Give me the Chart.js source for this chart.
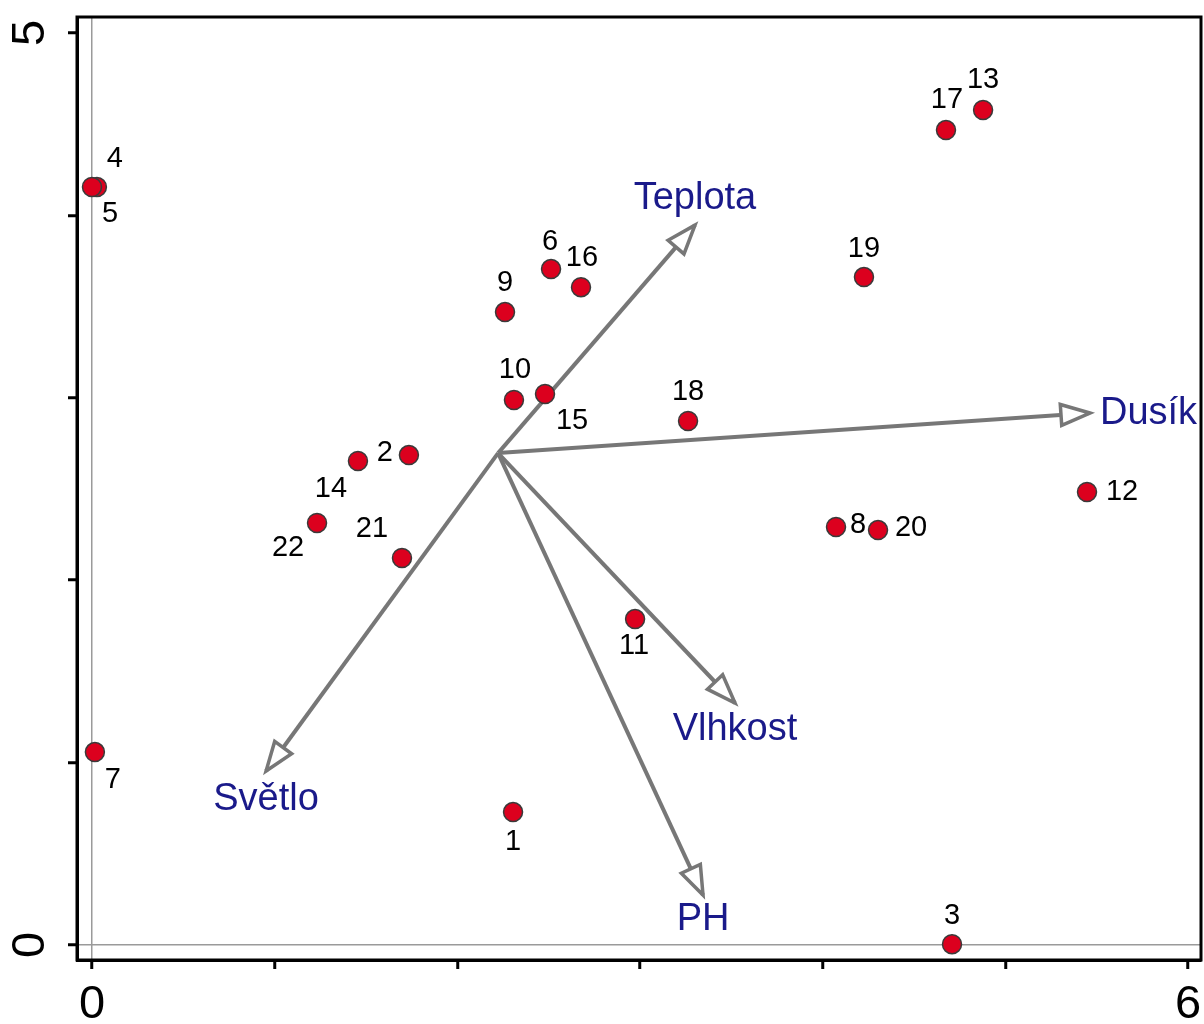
<!DOCTYPE html>
<html>
<head>
<meta charset="utf-8">
<script src="https://cdn.jsdelivr.net/npm/chart.js@4.4.1/dist/chart.umd.min.js"></script>
<style>
  html, body { margin: 0; padding: 0; background: #fff; }
  canvas { display: block; }
</style>
</head>
<body>
<canvas id="ordination" width="1204" height="1024"></canvas>
<script>
// sites (red points)
const siteLabels = ['1', '2', '3', '4', '5', '6', '7', '8', '9', '10', '11',
                    '12', '13', '14', '15', '16', '17', '18', '19', '20', '21', '22'];
const siteX = [2.305, 1.735, 4.708, 0.027, 0.000, 2.513, 0.016, 4.073, 2.261, 2.310, 2.973,
               5.447, 4.878, 1.456, 2.480, 2.677, 4.675, 3.263, 4.226, 4.303, 1.697, 1.232];
const siteY = [0.729, 2.686, 0.005, 4.156, 4.156, 3.706, 1.058, 2.292, 3.470, 2.988, 1.787,
               2.484, 4.578, 2.654, 3.021, 3.607, 4.468, 2.873, 3.662, 2.275, 2.122, 2.314];

// environmental vectors
const vectorNames = ['Teplota', 'Dusík', 'Vlhkost', 'PH', 'Světlo'];
const vectorX = [3.301, 5.463, 3.520, 3.345, 0.953];
const vectorY = [3.947, 2.917, 1.327, 0.274, 0.954];
const vectorOrigin = [2.223, 2.697];

// axis labels (only ends are labelled)
const xTickLabels = ['0', '', '', '', '', '', '6'];
const yTickLabels = ['0', '', '', '', '', '5'];

// label placement (pixels, relative to the mark)
const siteLabelOffsets = [[0, 30], [-24, -2], [0, -28], [18, -28], [18, 27], [-1, -27], [18, 28],
  [22, -2], [0, -29], [1, -30], [-1, 27], [35, 0], [0, -30], [-27, 28], [27, 27], [1, -29],
  [1, -30], [0, -29], [0, -28], [33, -2], [-30, -29], [-29, 25]];
const vectorLabelOffsets = [[0, -27, 'center'], [10, 1, 'left'], [0, 27, 'center'], [0, 24, 'center'], [0, 28, 'center']];

const FONT = 'Arial, "Liberation Sans", sans-serif';
const ARROW_GREY = '#777777';
const LABEL_BLUE = '#1a1a8a';

const sitePoints = siteX.map((x, i) => ({ x: x, y: siteY[i] }));

const vectorDatasets = vectorNames.map((name, i) => ({
    label: name,
    data: [{ x: vectorOrigin[0], y: vectorOrigin[1] }, { x: vectorX[i], y: vectorY[i] }],
    showLine: true,
    borderColor: ARROW_GREY,
    borderWidth: 4,
    pointRadius: 0,
    order: 2,
    isVector: true
}));

const ordinationPlugin = {
    id: 'ordination',
    beforeDatasetsDraw(chart) {
        // frame around plot area
        const { ctx, chartArea: a } = chart;
        ctx.save();
        ctx.strokeStyle = '#000';
        ctx.lineWidth = 3;
        ctx.strokeRect(a.left, a.top, a.right - a.left, a.bottom - a.top);
        ctx.restore();
    },
    afterDatasetDraw(chart, args) {
        const ds = chart.data.datasets[args.index];
        if (!ds.isVector) return;
        const pts = args.meta.data;
        const x0 = pts[0].x, y0 = pts[0].y, x1 = pts[1].x, y1 = pts[1].y;
        const ang = Math.atan2(y1 - y0, x1 - x0);
        const len = 29, half = 10.5;
        const bx = x1 - len * Math.cos(ang), by = y1 - len * Math.sin(ang);
        const ctx = chart.ctx;
        ctx.save();
        ctx.beginPath();
        ctx.moveTo(x1, y1);
        ctx.lineTo(bx + half * Math.sin(ang), by - half * Math.cos(ang));
        ctx.lineTo(bx - half * Math.sin(ang), by + half * Math.cos(ang));
        ctx.closePath();
        ctx.fillStyle = '#fff';
        ctx.fill();
        ctx.strokeStyle = ARROW_GREY;
        ctx.lineWidth = 3.5;
        ctx.lineJoin = 'miter';
        ctx.stroke();
        ctx.restore();
    },
    afterDraw(chart) {
        const ctx = chart.ctx;
        const xs = chart.scales.x, ys = chart.scales.y;
        ctx.save();
        ctx.textBaseline = 'middle';

        // site numbers
        ctx.fillStyle = '#000';
        ctx.font = '29px ' + FONT;
        ctx.textAlign = 'center';
        const siteMeta = chart.getDatasetMeta(0);
        siteMeta.data.forEach((pt, i) => {
            const off = siteLabelOffsets[i];
            ctx.fillText(siteLabels[i], pt.x + off[0], pt.y + off[1]);
        });

        // vector names
        ctx.fillStyle = LABEL_BLUE;
        ctx.font = '38px ' + FONT;
        vectorNames.forEach((name, i) => {
            const tip = chart.getDatasetMeta(i + 1).data[1];
            const off = vectorLabelOffsets[i];
            ctx.textAlign = off[2];
            ctx.fillText(name, tip.x + off[0], tip.y + off[1]);
        });

        // axis end labels
        ctx.fillStyle = '#000';
        ctx.font = '47px ' + FONT;
        ctx.textAlign = 'center';
        xs.ticks.forEach(t => {
            const lab = xTickLabels[Math.round(t.value)];
            if (lab) ctx.fillText(lab, xs.getPixelForValue(t.value), 1005);
        });
        ys.ticks.forEach(t => {
            const lab = yTickLabels[Math.round(t.value)];
            if (!lab) return;
            ctx.save();
            ctx.translate(31, ys.getPixelForValue(t.value));
            ctx.rotate(-Math.PI / 2);
            ctx.fillText(lab, 0, 0);
            ctx.restore();
        });
        ctx.restore();
    }
};

const zeroLine = (c) => c.tick && c.tick.value === 0 ? '#9a9a9a' : 'rgba(0,0,0,0)';

new Chart(document.getElementById('ordination'), {
    type: 'scatter',
    data: {
        datasets: [{
            label: 'Sites',
            data: sitePoints,
            pointRadius: 9.5,
            pointHoverRadius: 9.5,
            backgroundColor: '#dc001e',
            borderColor: '#3a3a3a',
            borderWidth: 1.5,
            order: 0
        }].concat(vectorDatasets)
    },
    options: {
        responsive: false,
        animation: false,
        events: [],
        layout: { autoPadding: false, padding: { top: 17, right: 3, left: 0, bottom: 0 } },
        plugins: { legend: { display: false }, tooltip: { enabled: false } },
        scales: {
            x: {
                type: 'linear',
                min: -0.082,
                max: 6.071,
                afterFit: (scale) => { scale.height = 64; },
                ticks: { stepSize: 1, includeBounds: false, display: false },
                grid: { color: zeroLine, lineWidth: 1.5, tickColor: '#000', tickWidth: 3, tickLength: 9 },
                border: { display: true, color: '#000', width: 3 }
            },
            y: {
                type: 'linear',
                min: -0.082,
                max: 5.088,
                afterFit: (scale) => { scale.width = 77; },
                ticks: { stepSize: 1, includeBounds: false, display: false },
                grid: { color: zeroLine, lineWidth: 1.5, tickColor: '#000', tickWidth: 3, tickLength: 9 },
                border: { display: true, color: '#000', width: 3 }
            }
        }
    },
    plugins: [ordinationPlugin]
});
</script>
</body>
</html>
